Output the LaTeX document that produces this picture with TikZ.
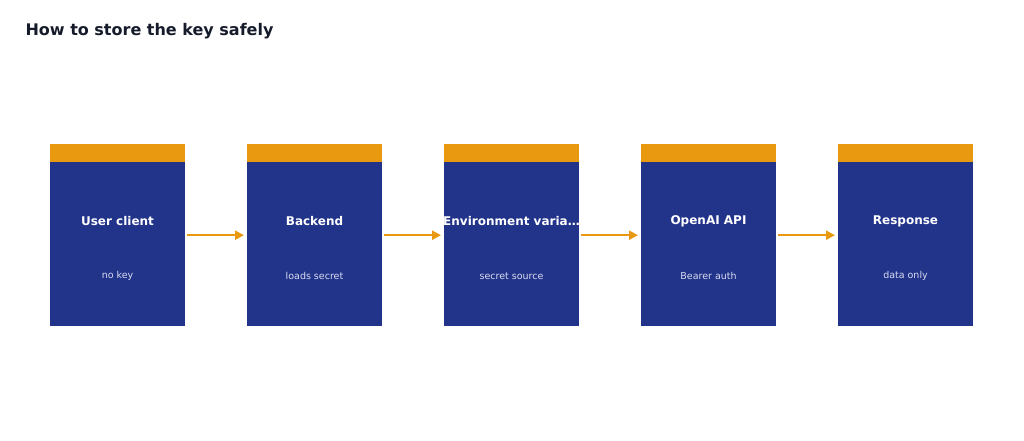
\documentclass[tikz,border=0pt]{standalone}
\usepackage{fontspec}
\setmainfont{DejaVu Sans}
\usetikzlibrary{arrows.meta}
\definecolor{bx}{HTML}{22338A}
\definecolor{org}{HTML}{E8990F}
\definecolor{sub}{HTML}{D8DCF0}
\definecolor{ttl}{HTML}{161B2B}
\begin{document}
\begin{tikzpicture}[x=1pt,y=-1pt,
  box/.style={fill=bx,draw=none,minimum width=135pt,minimum height=164pt,inner sep=0pt,anchor=north west},
  topbar/.style={fill=org,draw=none,minimum width=135pt,minimum height=18pt,inner sep=0pt,anchor=north west},
  lbl/.style={text=white,font=\bfseries\fontsize{12}{14}\selectfont},
  sl/.style={text=sub,font=\fontsize{9.5}{11}\selectfont},
  arr/.style={draw=org,line width=2.2pt,-{Triangle[length=9pt,width=9pt]}}]
\useasboundingbox (0,0) rectangle (1024,441);
\node[anchor=west,text=ttl,font=\bfseries\fontsize{16}{19}\selectfont] (title) at (22,31) {How to store the key safely};
\foreach \i/\x/\a/\b in {1/50/User client/no key,2/247/Backend/loads secret,3/444/Environment varia…/secret source,4/641/OpenAI API/Bearer auth,5/838/Response/data only}{
  \node[box] (b\i) at (\x,162) {};
  \node[topbar] (c\i) at (\x,144) {};
  \node[lbl] (t\i) at (\x+67.5,221) {\a};
  \node[sl] (s\i) at (\x+67.5,276) {\b};
}
\foreach \i/\j in {1/2,2/3,3/4,4/5}{
  \draw[arr] ([xshift=2pt,yshift=9pt]b\i.east) -- ([xshift=-3pt,yshift=9pt]b\j.west);
}
\end{tikzpicture}
\end{document}
